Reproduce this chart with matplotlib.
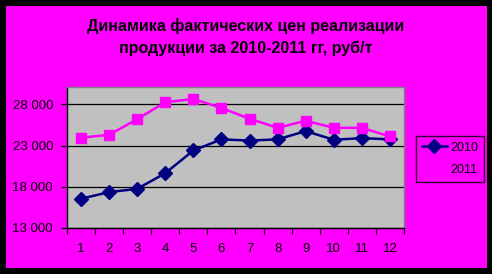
import matplotlib
matplotlib.use("Agg")
import matplotlib.pyplot as plt
from matplotlib.patches import Rectangle
from matplotlib.ticker import FixedLocator, FuncFormatter

months = [1, 2, 3, 4, 5, 6, 7, 8, 9, 10, 11, 12]
prices_2010 = [16550, 17350, 17750, 19650, 22400, 23750, 23600, 23750, 24750, 23700, 23900, 23750]
prices_2011 = [23950, 24300, 26200, 28250, 28650, 27550, 26250, 25150, 26000, 25150, 25150, 24100]
series_names = ["2010", "2011"]
y_ticks = [13000, 18000, 23000, 28000]
title = "Динамика фактических цен реализации\nпродукции за 2010-2011 гг, руб/т"

plt.rcParams['font.family'] = ['Liberation Sans', 'DejaVu Sans']

W, H = 492, 274
fig = plt.figure(figsize=(W / 100, H / 100), dpi=100, facecolor='black')
fig.patches.append(Rectangle((6 / W, 6 / H), 481 / W, 262 / H, transform=fig.transFigure,
                             facecolor='#FF00FF', edgecolor='none', zorder=-10))

ax = fig.add_axes([67 / W, (H - 228) / H, 337 / W, 141 / H])
ax.set_facecolor('#C0C0C0')

x = list(range(len(months)))
ax.plot(x, prices_2010, color='#000080', lw=1.8, marker='D', ms=7,
        mfc='#000080', mec='#000080', label=series_names[0], zorder=3)
ax.plot(x, prices_2011, color='#FF00FF', lw=1.8, marker='s', ms=7.2,
        mfc='#FF00FF', mec='#FF00FF', label=series_names[1], zorder=3)

ax.set_xlim(-0.5, len(months) - 0.5)
ax.set_ylim(13000, 30100)
ax.set_yticks(y_ticks)
ax.yaxis.set_major_formatter(FuncFormatter(lambda v, p: f"{int(v):,}".replace(",", " ")))
ax.grid(axis='y', color='black', lw=0.9)
ax.set_axisbelow(True)

ax.set_xticks(x)
ax.set_xticklabels([str(m) for m in months])
ax.xaxis.set_minor_locator(FixedLocator([i - 0.5 for i in range(len(months) + 1)]))
ax.tick_params(axis='x', which='major', length=0, pad=10.5, labelsize=9.5)
ax.tick_params(axis='x', which='minor', length=4, width=0.9, direction='out')
ax.tick_params(axis='y', length=4, width=0.9, pad=6, labelsize=9.5)

for s in ['left', 'bottom']:
    ax.spines[s].set_color('black')
    ax.spines[s].set_linewidth(1.0)
for s in ['top', 'right']:
    ax.spines[s].set_color('#808080')
    ax.spines[s].set_linewidth(1.0)

fig.text(246 / W, 1 - 37 / H, title, ha='center', va='center', fontsize=11.5,
         fontweight='bold', linespacing=1.55)

leg = fig.legend(loc='upper left', bbox_to_anchor=(416 / W, 1 - 136 / H),
                 bbox_transform=fig.transFigure, borderaxespad=0,
                 frameon=True, fontsize=9, handlelength=2.0, borderpad=0.45,
                 labelspacing=0.85, handletextpad=0.3, fancybox=False)
leg.get_frame().set_facecolor('#FF00FF')
leg.get_frame().set_edgecolor('black')
leg.get_frame().set_linewidth(1.0)

fig.savefig('out.png', dpi=100, facecolor=fig.get_facecolor())
